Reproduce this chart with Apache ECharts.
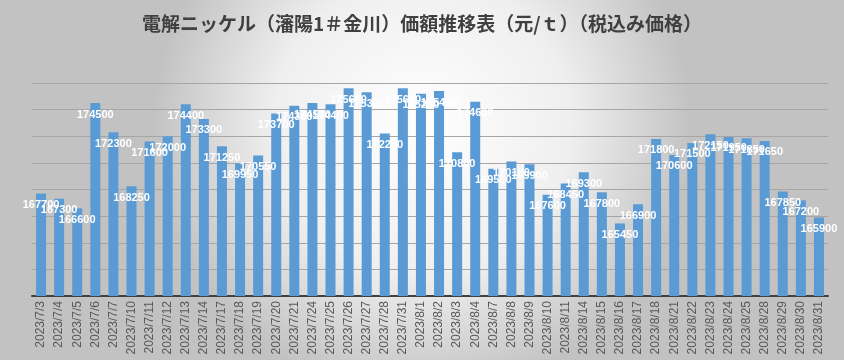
<!DOCTYPE html>
<html>
<head>
<meta charset="utf-8">
<script src="https://cdn.jsdelivr.net/npm/echarts@6/dist/echarts.min.js"></script>
<style>
html,body{margin:0;padding:0;background:#fff;}
#chart{width:844px;height:360px;}
</style>
</head>
<body>
<div id="chart"></div>
<script>
const titleText = '電解ニッケル（瀋陽1＃金川）価額推移表（元/ｔ）（税込み価格）';
const categories = [
  '2023/7/3','2023/7/4','2023/7/5','2023/7/6','2023/7/7','2023/7/10','2023/7/11','2023/7/12','2023/7/13','2023/7/14',
  '2023/7/17','2023/7/18','2023/7/19','2023/7/20','2023/7/21','2023/7/24','2023/7/25','2023/7/26','2023/7/27','2023/7/28',
  '2023/7/31','2023/8/1','2023/8/2','2023/8/3','2023/8/4','2023/8/7','2023/8/8','2023/8/9','2023/8/10','2023/8/11',
  '2023/8/14','2023/8/15','2023/8/16','2023/8/17','2023/8/18','2023/8/21','2023/8/22','2023/8/23','2023/8/24','2023/8/25',
  '2023/8/28','2023/8/29','2023/8/30','2023/8/31'
];
const prices = [
  167700,167300,166600,174500,172300,168250,171600,172000,174400,173300,
  171250,169950,170550,173700,174300,174500,174400,175600,175300,172200,
  175600,175200,175400,170800,174600,169550,170100,169900,167600,168450,
  169300,167800,165450,166900,171800,170600,171500,172150,171950,171850,
  171650,167850,167200,165900
];
const yMin = 160000, yMax = 176000, yStep = 2000;

const chart = echarts.init(document.getElementById('chart'), null, {renderer:'canvas'});
chart.setOption({
  backgroundColor: {
    type: 'radial', x: 0.5, y: 0.35, r: 0.75,
    colorStops: [
      {offset: 0, color: '#ffffff'},
      {offset: 0.55, color: '#efefef'},
      {offset: 1, color: '#c2c2c2'}
    ]
  },
  animation: false,
  title: {
    text: titleText,
    left: 'center',
    top: 9,
    textStyle: {
      fontFamily: '"Noto Sans CJK JP", sans-serif',
      fontSize: 19,
      fontWeight: 'bold',
      color: '#404040'
    }
  },
  grid: {left: 32, right: 16, top: 83, bottom: 64, containLabel: false},
  xAxis: {
    type: 'category',
    data: categories,
    axisTick: {show: false},
    axisLine: {lineStyle: {color: '#404040', width: 2}},
    axisLabel: {
      rotate: 90,
      interval: 0,
      margin: 5,
      color: '#595959',
      fontSize: 12,
      fontFamily: '"Liberation Sans", Arial, sans-serif'
    }
  },
  yAxis: {
    type: 'value',
    min: yMin, max: yMax, interval: yStep,
    axisLabel: {show: false},
    axisLine: {show: false},
    axisTick: {show: false},
    splitLine: {lineStyle: {color: '#a6a6a6', width: 1}}
  },
  series: [{
    type: 'bar',
    data: prices,
    barWidth: 10,
    itemStyle: {color: '#5b9bd5'},
    label: {
      show: true,
      position: 'insideTop',
      distance: 6,
      color: '#ffffff',
      fontSize: 11,
      fontWeight: 'bold',
      fontFamily: '"Liberation Sans", Arial, sans-serif'
    },
    labelLayout: {hideOverlap: false}
  }]
});
</script>
</body>
</html>
